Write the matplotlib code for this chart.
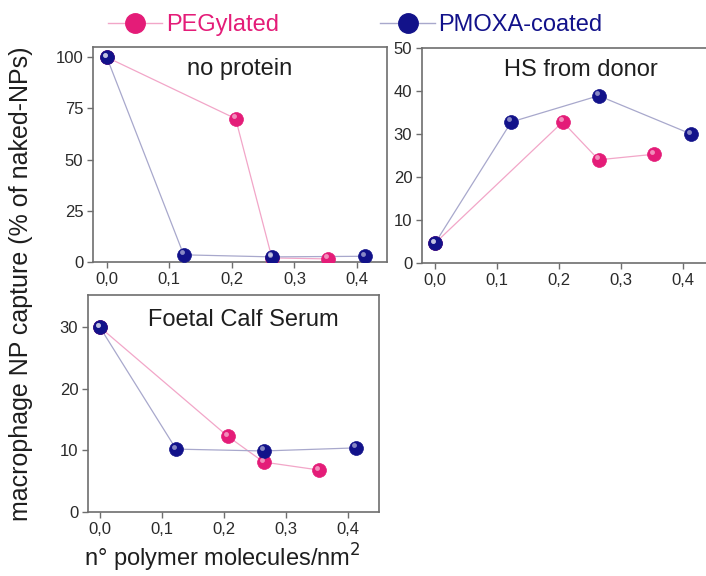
import matplotlib
matplotlib.use("Agg")
import matplotlib.pyplot as plt
from matplotlib.lines import Line2D
from matplotlib.ticker import FuncFormatter
import matplotlib.transforms as mtransforms

plt.rcParams['font.family'] = ['Liberation Sans', 'DejaVu Sans']

# polymer density (molecules/nm^2)
x_peg = [0.0, 0.206, 0.264, 0.354]
x_pmoxa = [0.0, 0.123, 0.264, 0.413]

# macrophage capture (% of naked NPs)
peg_noprot = [100, 70, 2.0, 1.5]
pmoxa_noprot = [100, 3.5, 2.5, 2.8]
peg_hs = [4.6, 32.8, 24.0, 25.3]
pmoxa_hs = [4.6, 32.8, 38.9, 30.0]
peg_fcs = [30, 12.3, 8.1, 6.8]
pmoxa_fcs = [30, 10.2, 9.9, 10.4]

titles = ["no protein", "HS from donor", "Foetal Calf Serum"]

PINK = "#e41c78"
NAVY = "#12128a"
PINK_LINE = "#f2a6c8"
NAVY_LINE = "#a8a8cc"
SPINE = "#6e6e6e"

W, H = 706, 576
fig = plt.figure(figsize=(W / 100, H / 100), dpi=100)


def px_axes(left, top, right, bottom):
    return fig.add_axes([left / W, 1 - bottom / H, (right - left) / W, (bottom - top) / H])


def sphere(ax, x, y, color, ms):
    # base ball plus a small highlight to fake the 3D look
    ax.plot(x, y, 'o', ms=ms, color=color, mec=color, mew=0.5, zorder=3)
    tr = mtransforms.offset_copy(ax.transData, fig=fig, x=-ms * 0.15, y=ms * 0.18, units='points')
    ax.plot(x, y, 'o', ms=ms * 0.35, color='white', alpha=0.5, mec='none',
            transform=tr, zorder=4, clip_on=False)


def style(ax):
    for s in ax.spines.values():
        s.set_color(SPINE)
        s.set_linewidth(1.2)
    ax.tick_params(direction='out', length=4, width=1, color=SPINE,
                   labelsize=12, labelcolor='#2a2a2a', pad=3)
    ax.xaxis.set_major_formatter(FuncFormatter(lambda v, p: f"{v:.1f}".replace('.', ',')))
    ax.set_xticks([0.0, 0.1, 0.2, 0.3, 0.4])


ax1 = px_axes(93, 47, 387, 262)
ax2 = px_axes(422, 48, 722, 263)
ax3 = px_axes(88, 295, 379, 512)

panels = [
    (ax1, peg_noprot, pmoxa_noprot, (-0.022, 0.448), (0, 105), [0, 25, 50, 75, 100], (0.50, 0.90)),
    (ax2, peg_hs, pmoxa_hs, (-0.021, 0.463), (0, 50), [0, 10, 20, 30, 40, 50], (0.53, 0.90)),
    (ax3, peg_fcs, pmoxa_fcs, (-0.019, 0.45), (0, 35.2), [0, 10, 20, 30], (0.533, 0.885)),
]

for (ax, peg, pmoxa, xl, yl, yt, tpos), title in zip(panels, titles):
    ax.plot(x_peg, peg, '-', color=PINK_LINE, lw=0.9, zorder=2)
    ax.plot(x_pmoxa, pmoxa, '-', color=NAVY_LINE, lw=0.9, zorder=2)
    sphere(ax, x_peg, peg, PINK, 10)
    sphere(ax, x_pmoxa, pmoxa, NAVY, 10)
    ax.set_xlim(*xl)
    ax.set_ylim(*yl)
    ax.set_yticks(yt)
    style(ax)
    ax.text(tpos[0], tpos[1], title, transform=ax.transAxes, ha='center', va='center',
            fontsize=17, color='#1e1e1e')

ax2.spines['right'].set_visible(False)

# legend across the top
handles = [
    Line2D([], [], color=PINK_LINE, lw=1.0, marker='o', ms=14, mfc=PINK, mec=PINK),
    Line2D([], [], color=NAVY_LINE, lw=1.0, marker='o', ms=14, mfc=NAVY, mec=NAVY),
]
leg = fig.legend(handles, ["PEGylated", "PMOXA-coated"], loc='center left',
                 bbox_to_anchor=(108 / W, 1 - 25 / H), ncol=2, frameon=False,
                 fontsize=17, handlelength=2.3, handletextpad=0.15,
                 columnspacing=4.3, borderpad=0, borderaxespad=0)
for t, c in zip(leg.get_texts(), [PINK, NAVY]):
    t.set_color(c)

fig.text(21 / W, 1 - 284 / H, "macrophage NP capture (% of naked-NPs)", rotation=90,
         ha='center', va='center', fontsize=18, color='#1e1e1e')
fig.text(222 / W, 1 - 558 / H, "n° polymer molecules/nm$^2$", ha='center', va='center',
         fontsize=17, color='#1e1e1e')

fig.savefig("out.png", dpi=100)
